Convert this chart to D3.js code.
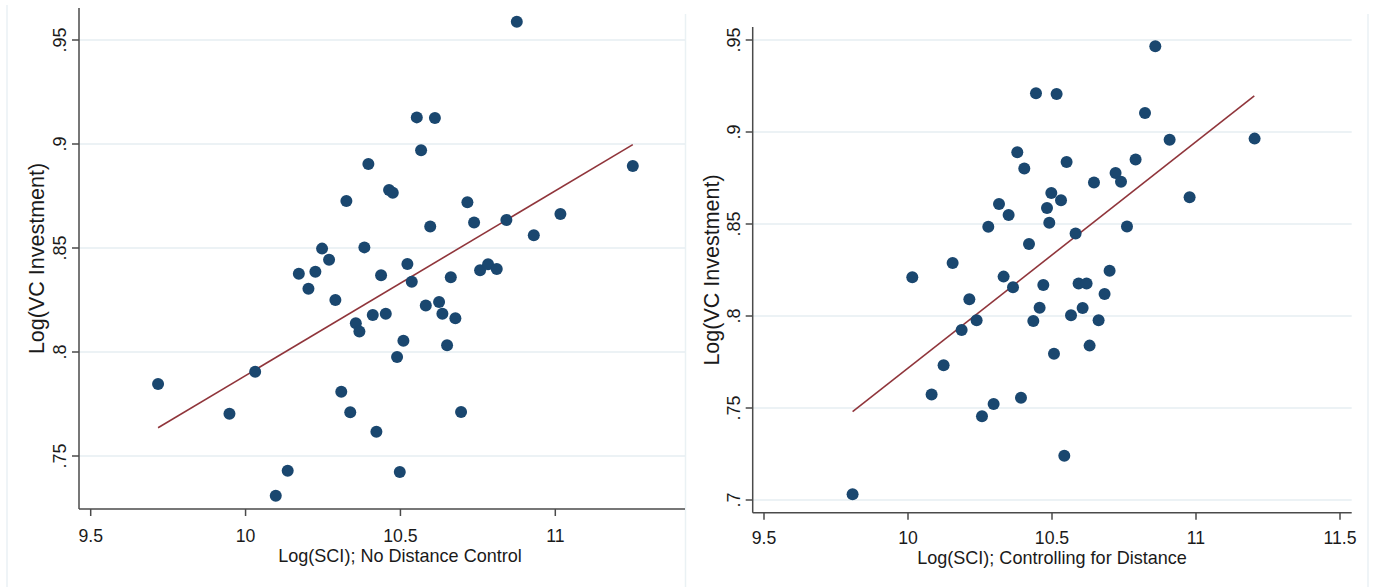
<!DOCTYPE html>
<html>
<head>
<meta charset="utf-8">
<script src="https://cdn.jsdelivr.net/npm/d3@7"></script>
<style>
  html, body { margin: 0; padding: 0; background: #fff; }
  svg { display: block; font-family: "Liberation Sans", Arial, sans-serif; }
</style>
</head>
<body>
<svg id="chart" width="1373" height="587"></svg>
<script>
// ---------------- DATA ----------------
// Left panel: Log(SCI); No Distance Control
const leftX = [9.7175, 9.948, 10.031, 10.136, 10.0975, 10.172, 10.203, 10.2254, 10.247, 10.2696,
  10.29, 10.309, 10.3255, 10.338, 10.356, 10.3675, 10.3836, 10.3965, 10.4107, 10.4224,
  10.4375, 10.4527, 10.4633, 10.4753, 10.4891, 10.5096, 10.4979, 10.5225, 10.5366, 10.5528,
  10.5667, 10.6113, 10.5962, 10.5819, 10.6248, 10.6355, 10.6506, 10.6626, 10.6774, 10.6958,
  10.7162, 10.7378, 10.7572, 10.783, 10.811, 10.8421, 10.8757, 10.9306, 11.0165, 11.2502];
const leftY = [0.7846, 0.7703, 0.7905, 0.7429, 0.7309, 0.8376, 0.8304, 0.8386, 0.8497, 0.8444,
  0.825, 0.7809, 0.8726, 0.771, 0.8138, 0.8099, 0.8503, 0.8904, 0.8178, 0.7617,
  0.8369, 0.8184, 0.8779, 0.8766, 0.7976, 0.8054, 0.7423, 0.8423, 0.8338, 0.9128,
  0.897, 0.9125, 0.8603, 0.8223, 0.824, 0.8184, 0.8032, 0.8359, 0.8162, 0.7712,
  0.872, 0.8623, 0.8393, 0.8422, 0.8399, 0.8635, 0.9588, 0.8561, 0.8663, 0.8894];
const leftFitX = [9.7175, 11.2502];
const leftFitY = [0.7636, 0.8997];
const leftXTicks = [9.5, 10, 10.5, 11];
const leftXTickLabels = ["9.5", "10", "10.5", "11"];
const leftYTicks = [0.75, 0.8, 0.85, 0.9, 0.95];
const leftYTickLabels = [".75", ".8", ".85", ".9", ".95"];

// Right panel: Log(SCI); Controlling for Distance
const rightX = [9.8076, 10.0149, 10.082, 10.1236, 10.155, 10.1862, 10.213, 10.2383, 10.2569, 10.2788,
  10.2973, 10.316, 10.332, 10.3494, 10.3646, 10.3795, 10.3923, 10.4038, 10.4201, 10.4351,
  10.4444, 10.457, 10.4698, 10.4826, 10.4906, 10.4976, 10.5069, 10.516, 10.5313, 10.5507,
  10.5427, 10.566, 10.582, 10.5924, 10.6201, 10.6063, 10.6306, 10.6458, 10.6618, 10.6826,
  10.7, 10.7208, 10.7396, 10.7604, 10.7903, 10.8229, 10.8587, 10.9084, 10.9778, 11.2035];
const rightY = [0.7031, 0.821, 0.7574, 0.7732, 0.8288, 0.7924, 0.8091, 0.7977, 0.7455, 0.8485,
  0.7522, 0.8609, 0.8214, 0.8549, 0.8156, 0.889, 0.7556, 0.8801, 0.8391, 0.7973,
  0.921, 0.8045, 0.8168, 0.8587, 0.8507, 0.8668, 0.7795, 0.9207, 0.8629, 0.8837,
  0.7241, 0.8004, 0.8449, 0.8176, 0.8176, 0.8043, 0.7839, 0.8726, 0.7977, 0.812,
  0.8246, 0.8777, 0.873, 0.8487, 0.8851, 0.9103, 0.9466, 0.8958, 0.8645, 0.8964];
const rightFitX = [9.8076, 11.2024];
const rightFitY = [0.748, 0.9196];
const rightXTicks = [9.5, 10, 10.5, 11, 11.5];
const rightXTickLabels = ["9.5", "10", "10.5", "11", "11.5"];
const rightYTicks = [0.7, 0.75, 0.8, 0.85, 0.9, 0.95];
const rightYTickLabels = [".7", ".75", ".8", ".85", ".9", ".95"];

const yTitle = "Log(VC Investment)";
const leftXTitle = "Log(SCI); No Distance Control";
const rightXTitle = "Log(SCI); Controlling for Distance";

// ---------------- STYLE ----------------
const DOT = "#1a476f";
const FIT = "#90353b";
const GRID = "#e6eef2";
const AXIS = "#4a4a4a";
const TEXT = "#1a1a1a";
const BORDER = "#eaf1f4";

const svg = d3.select("#chart");

// faint graph-region borders
[[7, 5], [685.5, 14], [1368, 14]].forEach(([bx, by]) => {
  svg.append("line").attr("x1", bx).attr("x2", bx).attr("y1", by).attr("y2", 587)
    .attr("stroke", BORDER).attr("stroke-width", 1.5);
});

function drawPanel(cfg) {
  const g = svg.append("g");
  const x = d3.scaleLinear().domain(cfg.xDom).range(cfg.xRange);
  const y = d3.scaleLinear().domain(cfg.yDom).range(cfg.yRange);
  const b = cfg.box;

  // grid
  g.selectAll("line.grid").data(cfg.yTicks).join("line").attr("class", "grid")
    .attr("x1", b.l).attr("x2", b.r)
    .attr("y1", d => y(d)).attr("y2", d => y(d))
    .attr("stroke", GRID).attr("stroke-width", 1.6);

  // axes lines
  g.append("line").attr("x1", b.l).attr("x2", b.l).attr("y1", b.t).attr("y2", b.b)
    .attr("stroke", AXIS).attr("stroke-width", 1.5);
  g.append("line").attr("x1", b.l).attr("x2", b.r).attr("y1", b.b).attr("y2", b.b)
    .attr("stroke", AXIS).attr("stroke-width", 1.5);

  // y ticks
  g.selectAll("line.yt").data(cfg.yTicks).join("line").attr("class", "yt")
    .attr("x1", b.l - 7).attr("x2", b.l)
    .attr("y1", d => y(d)).attr("y2", d => y(d))
    .attr("stroke", AXIS).attr("stroke-width", 1.5);
  g.selectAll("text.yl").data(cfg.yTicks).join("text").attr("class", "yl")
    .attr("transform", d => `translate(${b.l - 13},${y(d)}) rotate(-90)`)
    .attr("text-anchor", "middle").attr("font-size", 18).attr("fill", TEXT)
    .text((d, i) => cfg.yLabels[i]);

  // x ticks
  g.selectAll("line.xt").data(cfg.xTicks).join("line").attr("class", "xt")
    .attr("x1", d => x(d)).attr("x2", d => x(d))
    .attr("y1", b.b).attr("y2", b.b + 7)
    .attr("stroke", AXIS).attr("stroke-width", 1.5);
  g.selectAll("text.xl").data(cfg.xTicks).join("text").attr("class", "xl")
    .attr("transform", d => `translate(${x(d)},${b.b + cfg.xLabelOff}) scale(0.93,1)`)
    .attr("text-anchor", "middle").attr("font-size", 19).attr("fill", TEXT)
    .text((d, i) => cfg.xLabels[i]);

  // titles
  g.append("text")
    .attr("transform", `translate(${cfg.xTitlePos[0]},${cfg.xTitlePos[1]}) scale(0.95,1)`)
    .attr("text-anchor", "middle").attr("font-size", 19).attr("fill", TEXT)
    .text(cfg.xTitle);
  g.append("text")
    .attr("transform", `translate(${cfg.yTitlePos[0]},${cfg.yTitlePos[1]}) rotate(-90)`)
    .attr("text-anchor", "middle").attr("font-size", 21.5).attr("fill", TEXT)
    .text(yTitle);

  // fit line
  const pts = cfg.fitX.map((v, i) => [v, cfg.fitY[i]]);
  g.append("path").datum(pts)
    .attr("d", d3.line().x(d => x(d[0])).y(d => y(d[1])))
    .attr("fill", "none").attr("stroke", FIT).attr("stroke-width", 1.6);

  // dots
  g.selectAll("circle").data(cfg.xs.map((v, i) => [v, cfg.ys[i]])).join("circle")
    .attr("cx", d => x(d[0])).attr("cy", d => y(d[1])).attr("r", 6)
    .attr("fill", DOT);
}

drawPanel({
  xs: leftX, ys: leftY, fitX: leftFitX, fitY: leftFitY,
  xTicks: leftXTicks, xLabels: leftXTickLabels, yTicks: leftYTicks, yLabels: leftYTickLabels,
  xDom: [9.5, 11], xRange: [90.7, 555.3], yDom: [0.75, 0.95], yRange: [456, 40],
  box: { l: 79, r: 685, t: 8, b: 509 },
  xLabelOff: 33, xTitle: leftXTitle, xTitlePos: [400, 562], yTitlePos: [44, 258.5]
});
drawPanel({
  xs: rightX, ys: rightY, fitX: rightFitX, fitY: rightFitY,
  xTicks: rightXTicks, xLabels: rightXTickLabels, yTicks: rightYTicks, yLabels: rightYTickLabels,
  xDom: [9.5, 11.5], xRange: [764, 1340], yDom: [0.7, 0.95], yRange: [500, 40],
  box: { l: 752.7, r: 1351.7, t: 27, b: 512.7 },
  xLabelOff: 31.5, xTitle: rightXTitle, xTitlePos: [1052, 564], yTitlePos: [719, 270]
});
</script>
</body>
</html>
